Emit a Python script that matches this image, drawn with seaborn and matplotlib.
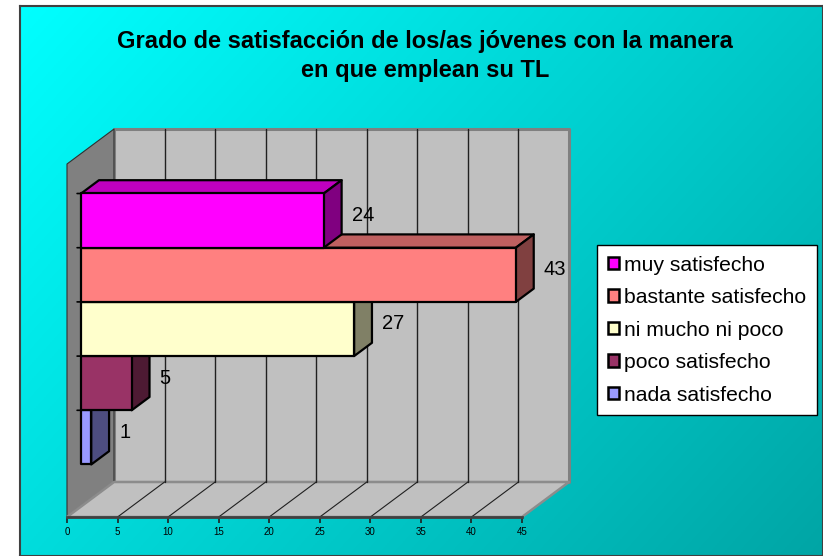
"""
Grado de satisfacción — barras horizontales con efecto 3D (estilo Excel)
"""
import numpy as np
import pandas as pd
import matplotlib
matplotlib.use('Agg')
import matplotlib.pyplot as plt
from matplotlib.patches import Polygon, Patch
import seaborn as sns

# ======================== datos ========================
categorias = ['muy satisfecho', 'bastante satisfecho', 'ni mucho ni poco',
              'poco satisfecho', 'nada satisfecho']
valores = [24, 43, 27, 5, 1]
colores = ['#FF00FF', '#FF8080', '#FFFFCC', '#993366', '#9999FF']
ticks_x = list(range(0, 50, 5))
titulo = 'Grado de satisfacción de los/as jóvenes con la manera\nen que emplean su TL'

df = pd.DataFrame({'cat': categorias, 'val': valores})

# ======================== estilo ========================
sns.set_style('white')
plt.rcParams['font.family'] = ['Liberation Sans', 'DejaVu Sans']
plt.rcParams['text.color'] = 'black'
plt.rcParams['xtick.color'] = 'black'
plt.rcParams['xtick.labelcolor'] = 'black'

W, H = 823, 556
fig = plt.figure(figsize=(W / 100, H / 100), dpi=100)
fig.patch.set_facecolor('white')

# ---- fondo degradado ----
bg = fig.add_axes([20 / W, 0, 1 - 20 / W, 1 - 6 / H])
gx, gy = np.meshgrid(np.linspace(0, 1, 400), np.linspace(0, 1, 300))
t = np.clip(0.62 * gx + 0.38 * gy, 0, 1)
c0 = np.array([0, 255, 255]) / 255
c1 = np.array([0, 165, 165]) / 255
img = c0[None, None, :] * (1 - t[..., None]) + c1[None, None, :] * t[..., None]
bg.imshow(img, aspect='auto', extent=[0, 1, 1, 0])
bg.set_xticks([]); bg.set_yticks([])
for s in bg.spines.values():
    s.set_color('#404040'); s.set_linewidth(1.5)

# ---- eje principal (plano frontal) ----
ax = fig.add_axes([67 / W, 39 / H, 455 / W, 353 / H])
ax.patch.set_visible(False)

sns.barplot(data=df, x='val', y='cat', hue='cat', palette=colores, orient='h',
            width=1.0, saturation=1, edgecolor='black', linewidth=1.6,
            legend=False, ax=ax)

Y_BOT, Y_TOP = 5.275, -1.238
ax.set_xlim(0, 45)
ax.set_ylim(Y_BOT, Y_TOP)
ax.set_xlabel(''); ax.set_ylabel('')
ax.set_yticks([])
ax.set_xticks(ticks_x)
ax.set_xticklabels([str(v) for v in ticks_x], fontsize=7, color='black')
ax.tick_params(axis='x', length=4, width=1.2, color='#202020', pad=3, bottom=True)
for s in ['top', 'right', 'left']:
    ax.spines[s].set_visible(False)
ax.spines['bottom'].set_color('#404040')
ax.spines['bottom'].set_linewidth(2)
ax.spines['bottom'].set_zorder(3)

PROF = np.array([47.0, 35.0])   # desplazamiento de profundidad (px)
D1, D2 = 0.30, 0.68             # cara frontal / trasera de las barras


def prof(x, y, f):
    px = ax.transData.transform((x, y))
    return ax.transData.inverted().transform(px + PROF * f)


def poly(pts, fc, ec, lw, z):
    ax.add_patch(Polygon(pts, closed=True, facecolor=fc, edgecolor=ec,
                         linewidth=lw, zorder=z, clip_on=False, joinstyle='round'))


# ---- paredes y suelo ----
poly([prof(0, Y_BOT, 1), prof(45, Y_BOT, 1), prof(45, Y_TOP, 1), prof(0, Y_TOP, 1)],
     '#C0C0C0', '#808080', 2.2, 0.5)
poly([prof(0, Y_TOP, 0), prof(0, Y_TOP, 1), prof(0, Y_BOT, 1), prof(0, Y_BOT, 0)],
     '#808080', '#303030', 0.8, 0.6)
poly([prof(0, Y_BOT, 0), prof(45, Y_BOT, 0), prof(45, Y_BOT, 1), prof(0, Y_BOT, 1)],
     '#C0C0C0', '#8C8C8C', 1.8, 0.6)
for xv in ticks_x[1:-1]:
    a, b = prof(xv, Y_TOP, 1), prof(xv, Y_BOT, 1)
    ax.plot([a[0], b[0]], [a[1], b[1]], color='#202020', lw=1.0, zorder=0.7,
            clip_on=False)
for xv in ticks_x[1:-1]:
    a, b = prof(xv, Y_BOT, 0), prof(xv, Y_BOT, 1)
    ax.plot([a[0], b[0]], [a[1], b[1]], color='#202020', lw=0.8, zorder=0.7,
            clip_on=False)

# ---- barras 3D ----
def sombra(hexc, k):
    r, g, b = matplotlib.colors.to_rgb(hexc)
    return (r * k, g * k, b * k)


n = len(categorias)
for p in list(ax.patches):
    if isinstance(p, Polygon):
        continue
    i = int(round(p.get_y() + p.get_height() / 2))
    x0, w = p.get_x(), p.get_width()
    y0, h = p.get_y(), p.get_height()
    y_sup, y_inf = min(y0, y0 + h), max(y0, y0 + h)
    z = 10 + (n - 1 - i) * 3
    fc = colores[i]
    # cara superior
    poly([prof(x0, y_sup, D1), prof(x0 + w, y_sup, D1),
          prof(x0 + w, y_sup, D2), prof(x0, y_sup, D2)],
         sombra(fc, 0.75), 'black', 1.6, z)
    # cara lateral
    poly([prof(x0 + w, y_sup, D1), prof(x0 + w, y_inf, D1),
          prof(x0 + w, y_inf, D2), prof(x0 + w, y_sup, D2)],
         sombra(fc, 0.5), 'black', 1.6, z + 1)
    # cara frontal (la barra de seaborn desplazada)
    nx, ny = prof(x0, y0, D1)
    p.set_x(nx); p.set_y(ny)
    p.set_zorder(z + 2)
    p.set_clip_on(False)
    p.set_joinstyle('round')
    # marca de categoría y etiqueta
    a = prof(0, y_sup, D1)
    ax.annotate('', xy=a, xytext=(-4, 0), textcoords='offset pixels',
                arrowprops=dict(arrowstyle='-', color='black', lw=1.2,
                                shrinkA=0, shrinkB=0), zorder=z + 2)
    c = prof(x0 + w, (y_sup + y_inf) / 2, D1)
    ax.annotate(str(valores[i]), xy=c, xytext=(28, 5), textcoords='offset pixels',
                ha='left', va='center', fontsize=14.5, color='black', zorder=40)

# ---- título ----
fig.text(425 / W, 1 - 56 / H, titulo, ha='center', va='center', fontsize=17,
         fontweight='bold', linespacing=1.32, color='black')

# ---- leyenda ----
handles = [Patch(facecolor=c, edgecolor='black', linewidth=1.8) for c in colores]
leg = fig.legend(handles, categorias, loc='upper left',
                 bbox_to_anchor=(597 / W, 1 - 245 / H), borderaxespad=0,
                 frameon=True, fancybox=False, edgecolor='black', framealpha=1,
                 fontsize=15.2, handlelength=0.55, handleheight=0.55,
                 handletextpad=0.25, labelspacing=0.64, borderpad=0.5)
leg.get_frame().set_linewidth(1.0)
for txt in leg.get_texts():
    txt.set_color('black')

fig.savefig('out.png', dpi=100)
plt.close(fig)
